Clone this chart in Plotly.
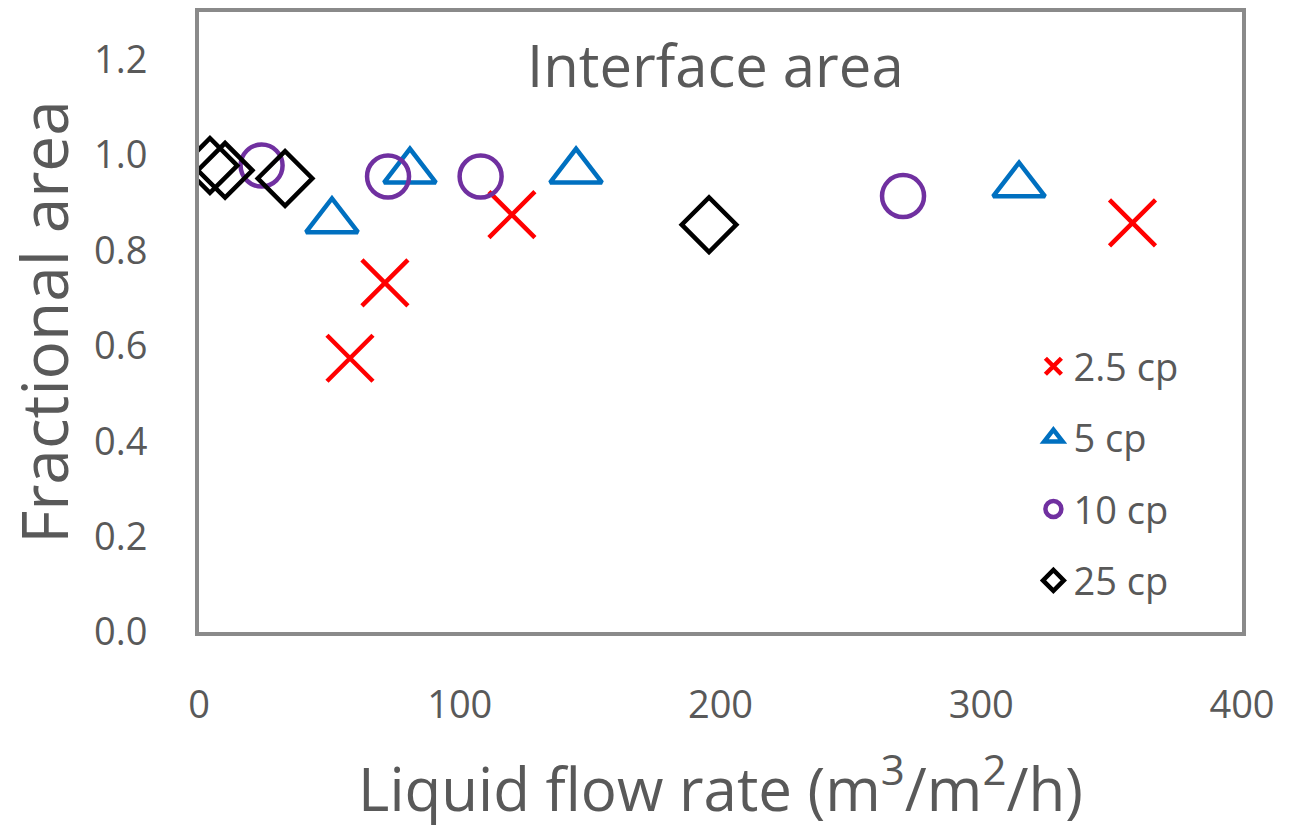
import plotly.graph_objects as go

# Fractional interface area vs liquid flow rate, one series per viscosity
flow_25cp_x = [57.9, 71.3, 120.0, 358.0]
area_25cp_x = [0.574, 0.732, 0.875, 0.858]

flow_5cp = [51.0, 80.9, 144.6, 314.5]
area_5cp = [0.862, 0.966, 0.966, 0.937]

flow_10cp = [24.0, 72.5, 108.0, 270.0]
area_10cp = [0.978, 0.955, 0.955, 0.914]

flow_25cp = [4.2, 10.0, 33.0, 195.6]
area_25cp = [0.978, 0.968, 0.951, 0.854]

x_ticks = [0, 100, 200, 300, 400]
y_ticks = [0.0, 0.2, 0.4, 0.6, 0.8, 1.0, 1.2]

FONT = "Open Sans"
TEXT = "#595959"
FRAME = "#8a8a8a"

series = [
    ("2.5 cp", flow_25cp_x, area_25cp_x, "x-thin-open", 46, "#FF0000"),
    ("5 cp", flow_5cp, area_5cp, "triangle-up-open", 45, "#0070C0"),
    ("10 cp", flow_10cp, area_10cp, "circle-open", 42, "#7030A0"),
    ("25 cp", flow_25cp, area_25cp, "diamond-open", 42, "#000000"),
]

fig = go.Figure()
for name, xs, ys, sym, size, color in series:
    fig.add_trace(go.Scatter(
        x=xs, y=ys, mode="markers", name=name, legendgroup=name,
        marker=dict(symbol=sym, size=size, color=color,
                    line=dict(color=color, width=4.5)),
    ))

fig.update_layout(
    width=1299, height=829,
    margin=dict(l=199, r=57, t=8, b=197),
    paper_bgcolor="white", plot_bgcolor="white",
    font=dict(family=FONT, color=TEXT, size=38),
    showlegend=True,
    legend=dict(
        x=0.80, y=0.479, xanchor="left", yanchor="top",
        bgcolor="rgba(0,0,0,0)", font=dict(size=38, color=TEXT),
        tracegroupgap=19, itemwidth=30,
    ),
    annotations=[dict(
        text="Interface area", xref="paper", yref="paper",
        x=0.495, y=0.915, xanchor="center", yanchor="middle",
        showarrow=False, font=dict(size=58, color=TEXT, family=FONT),
    )],
)

fig.update_xaxes(
    range=[0, 400], tickvals=x_ticks, ticktext=[str(v) for v in x_ticks],
    showgrid=False, zeroline=False, ticks="",
    showline=True, mirror=True, linecolor=FRAME, linewidth=4,
    tickfont=dict(size=38, color=TEXT), ticklabelstandoff=36,
    title=dict(text="Liquid flow rate (m<sup>3</sup>/m<sup>2</sup>/h)",
               font=dict(size=60, color=TEXT), standoff=42),
)
fig.update_yaxes(
    range=[0, 1.3], tickvals=y_ticks, ticktext=[f"{v:.1f}" for v in y_ticks],
    showgrid=False, zeroline=False, ticks="",
    showline=True, mirror=True, linecolor=FRAME, linewidth=4,
    tickfont=dict(size=38, color=TEXT), ticklabelstandoff=40,
    title=dict(text="Fractional area", font=dict(size=64, color=TEXT), standoff=18),
)

fig.write_html("out.html")
